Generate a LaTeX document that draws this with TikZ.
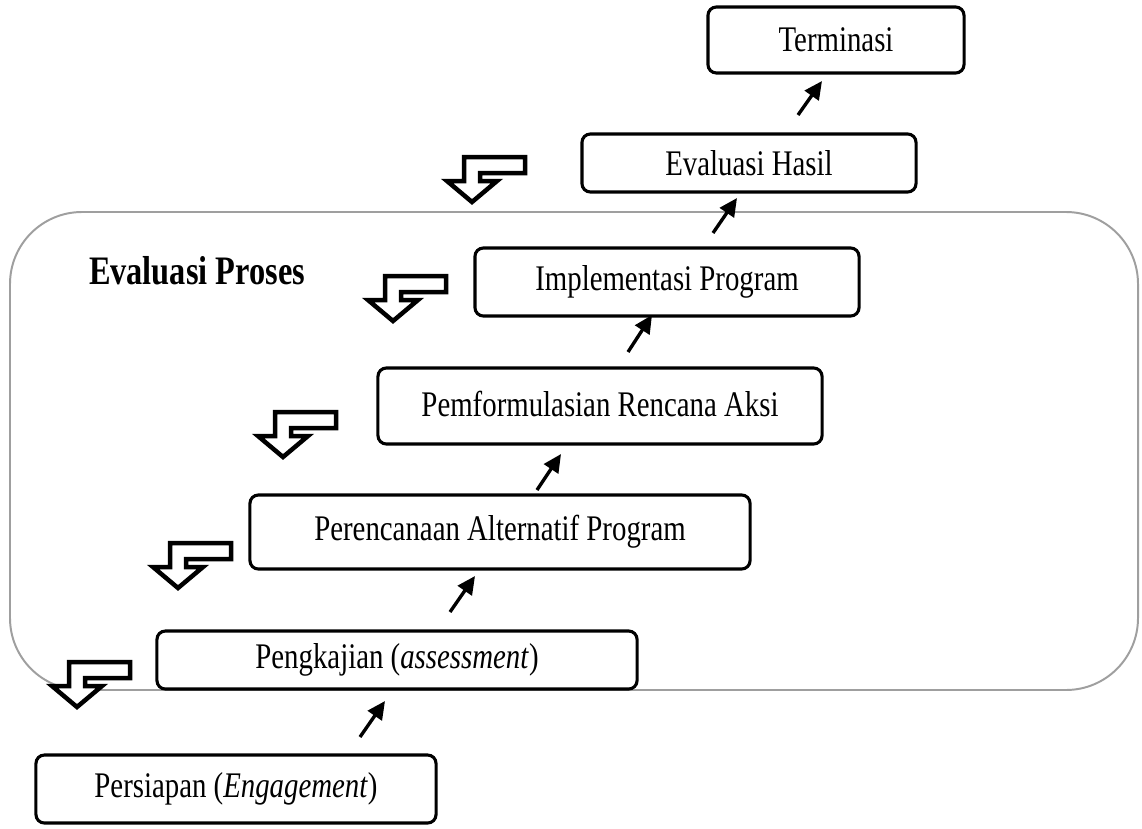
\documentclass[tikz,border=0pt]{standalone}
\usepackage{graphicx}
\usepackage{fontspec}
\setmainfont{Liberation Serif}
\usetikzlibrary{arrows.meta}
\newcommand{\tall}[1]{\scalebox{1}[1.25]{#1}}

\begin{document}
\begin{tikzpicture}[
        x=0.025cm, y=-0.025cm,
        font=\fontsize{20.5}{24}\selectfont,
        stage/.style={draw, line width=2.2pt, rounded corners=6pt, inner sep=0pt},
        frame/.style={draw=gray!75, line width=1.4pt, rounded corners=1.8cm},
        arrow/.style={-{Triangle[length=4.5mm,width=4.2mm]}, line width=2.4pt, draw=black},
        bentline/.style={draw=black, fill=white, line width=3.2pt, line join=miter},
        bentarrow/.pic={
            \path[bentline] (0,-1) -- (-25,-22) -- (-8,-22) -- (-8,-46) -- (53,-46)
                -- (53,-30) -- (8,-30) -- (8,-22) -- (25,-22) -- cycle;
        },
    ]
    \useasboundingbox (0,0) rectangle (1142,828);

    % Process frame
    \draw[frame] (10,212) rectangle (1138,690);
    \node[font=\fontsize{23}{26}\selectfont\bfseries] (proses) at (197,271) {\tall{Evaluasi Proses}};

    % Stages
    \node[stage, minimum width=6.4cm, minimum height=1.65cm] (term) at (836,40) {\tall{Terminasi}};
    \node[stage, minimum width=8.35cm, minimum height=1.45cm] (hasil) at (749,163) {\tall{Evaluasi Hasil}};
    \node[stage, minimum width=9.6cm, minimum height=1.7cm] (impl) at (667,282) {\tall{Implementasi Program}};
    \node[stage, minimum width=11.1cm, minimum height=1.9cm] (formul) at (600,406) {\raisebox{3pt}{\tall{Pemformulasian Rencana Aksi}}};
    \node[stage, minimum width=12.5cm, minimum height=1.85cm] (alt) at (500,532) {\raisebox{2pt}{\tall{Perencanaan Alternatif Program}}};
    \node[stage, minimum width=12cm, minimum height=1.45cm] (kaji) at (397,660) {\tall{Pengkajian (\textit{assessment})}};
    \node[stage, minimum width=10cm, minimum height=1.7cm] (siap) at (236,789) {\tall{Persiapan (\textit{Engagement})}};

    % Feedback arrows
    \pic (fb1) at (472,203) {bentarrow};
    \pic (fb2) at (393,322) {bentarrow};
    \pic (fb3) at (283,458) {bentarrow};
    \pic (fb4) at (178,589) {bentarrow};
    \pic (fb5) at (77,708) {bentarrow};

    % Lines
    \coordinate (s1) at (798,115); \coordinate (e1) at (822,81);
    \coordinate (s2) at (713,233); \coordinate (e2) at (737,198);
    \coordinate (s3) at (628,352); \coordinate (e3) at (652,315);
    \coordinate (s4) at (537,490); \coordinate (e4) at (561,454);
    \coordinate (s5) at (450,612); \coordinate (e5) at (475,576);
    \coordinate (s6) at (360,737); \coordinate (e6) at (385,701);
    \draw[arrow] (s1) -- (e1);
    \draw[arrow] (s2) -- (e2);
    \draw[arrow] (s3) -- (e3);
    \draw[arrow] (s4) -- (e4);
    \draw[arrow] (s5) -- (e5);
    \draw[arrow] (s6) -- (e6);

\end{tikzpicture}
\end{document}
